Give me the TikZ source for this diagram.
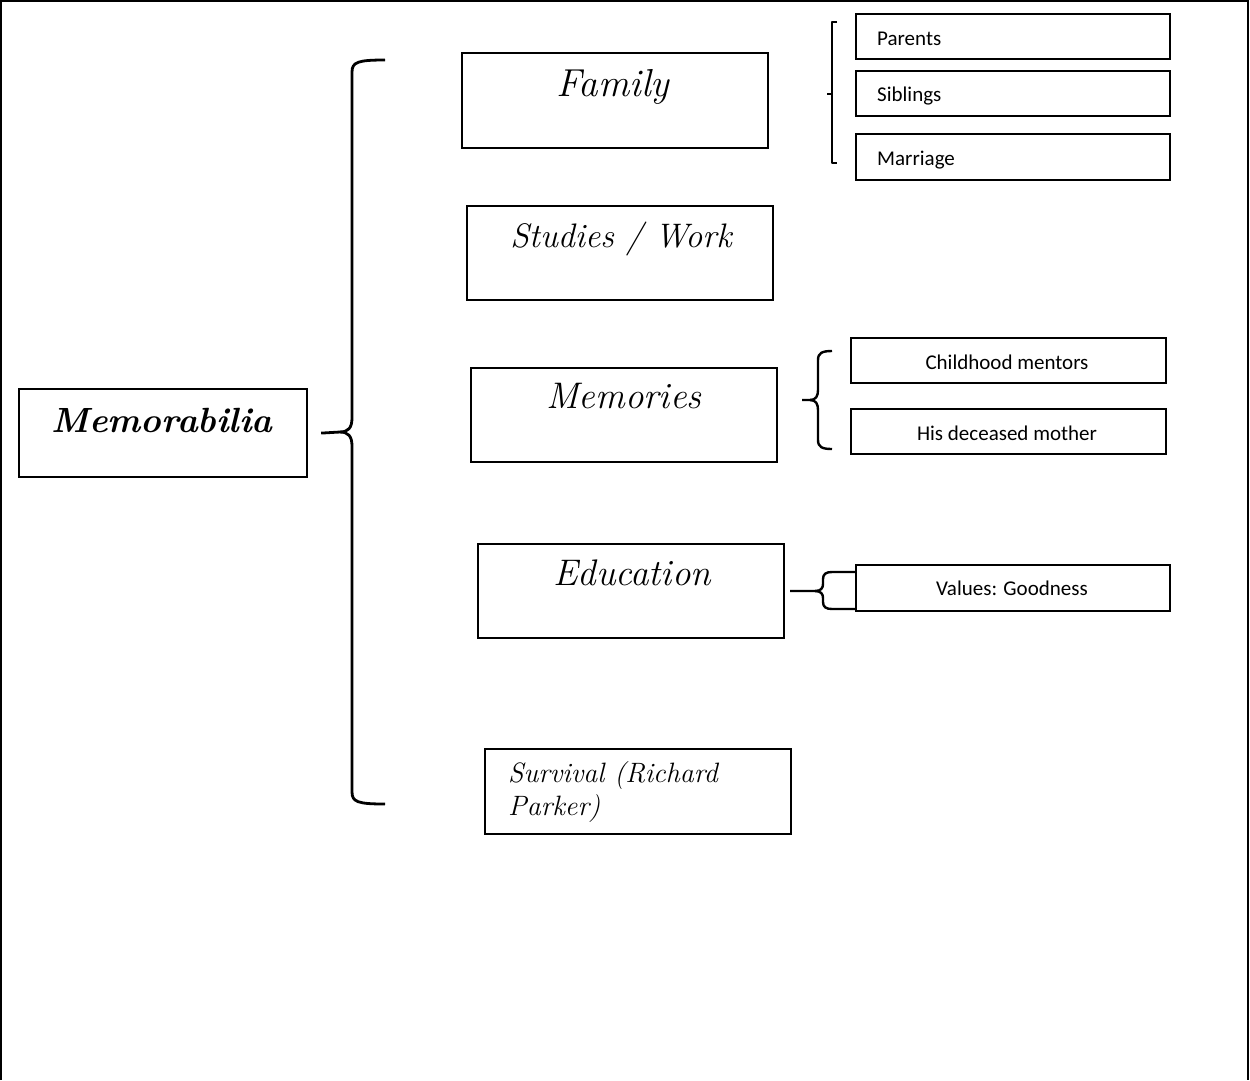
\documentclass[tikz,border=0pt]{standalone}
\usepackage{fontspec}
\newfontfamily\calib{Carlito}
\begin{document}
\begin{tikzpicture}[x=1pt,y=-1pt,
  box/.style={draw=black,line width=2.2pt,rectangle,inner sep=0pt,anchor=north west},
  scr/.style={inner sep=0pt,anchor=base,font=\fontsize{37}{40}\selectfont\itshape},
  lab/.style={inner sep=0pt,anchor=base,font=\calib\fontsize{21}{24}\selectfont},
  brc/.style={draw=black,line width=2.8pt,line join=round}]
\useasboundingbox (0,0) rectangle (1250,1080);
\fill[white] (0,0) rectangle (1250,1080);
\draw[line width=2pt] (1,1080) -- (1,1) -- (1248,1) -- (1248,1080);

% main boxes
\node[box,minimum width=288,minimum height=88] (memb) at (18,388) {};
\node[box,minimum width=306,minimum height=95] (famb) at (461,52) {};
\node[box,minimum width=306,minimum height=94] (stub) at (466,205) {};
\node[box,minimum width=306,minimum height=94] (remb) at (470,367) {};
\node[box,minimum width=306,minimum height=94] (edub) at (477,543) {};
\node[box,minimum width=306,minimum height=85] (surb) at (484,748) {};
% small boxes
\node[box,minimum width=314,minimum height=45] (parb) at (855,13) {};
\node[box,minimum width=314,minimum height=45] (sibb) at (855,70) {};
\node[box,minimum width=314,minimum height=46] (marb) at (855,133) {};
\node[box,minimum width=315,minimum height=45] (chib) at (850,337) {};
\node[box,minimum width=315,minimum height=45] (hisb) at (850,408) {};
\node[box,minimum width=314,minimum height=46] (valb) at (855,564) {};

% texts
\node[scr,font=\fontsize{35}{40}\selectfont\bfseries\itshape] (memt) at (162,432) {Memorabilia};
\node[scr,font=\fontsize{39}{40}\selectfont\itshape] (famt) at (613,96) {Family};
\node[scr,font=\fontsize{34}{40}\selectfont\itshape] (stut) at (621,247) {Studies / Work};
\node[scr] (remt) at (624,408) {Memories};
\node[scr] (edut) at (632,585) {Education};
\node[scr,anchor=base west,font=\fontsize{28}{32}\selectfont\itshape] (surt1) at (508,782) {Survival (Richard};
\node[scr,anchor=base west,font=\fontsize{28}{32}\selectfont\itshape] (surt2) at (508,815) {Parker)};
\node[lab,anchor=base west] (part) at (877,45) {Parents};
\node[lab,anchor=base west] (sibt) at (877,101) {Siblings};
\node[lab,anchor=base west] (mart) at (877,165) {Marriage};
\node[lab] (chit) at (1007,369) {Childhood mentors};
\node[lab] (hist) at (1007,440) {His deceased mother};
\node[lab] (valt) at (1012,595) {Values: Goodness};

% big brace
\draw[brc] (memb.east) ++(13,0) coordinate (bt0) -- (340,432)
  .. controls (348,432) and (352,428) .. (352,418) -- (352,72)
  .. controls (352,62) and (358,60) .. (385,60);
\draw[brc] (340,432) .. controls (348,432) and (352,436) .. (352,446) -- (352,792)
  .. controls (352,802) and (358,804) .. (385,804);

% family bracket
\draw[brc,line width=2pt] (837,22) -- (832,22) -- (832,163) -- (837,163);
\draw[brc,line width=2pt] (827,94) -- (832,94);

% memories brace
\draw[brc,line width=2.4pt] (802,400) -- (810,400)
  .. controls (816,400) and (818,396) .. (818,390) -- (818,360)
  .. controls (818,353) and (822,351) .. (832,351);
\draw[brc,line width=2.4pt] (810,400)
  .. controls (816,400) and (818,404) .. (818,410) -- (818,440)
  .. controls (818,447) and (822,449) .. (832,449);

% education brace
\coordinate (etip) at (790,591);
\coordinate (vtop) at (855,572);
\coordinate (vbot) at (855,609);
\draw[brc,line width=2.4pt] (etip) -- (815,591)
  .. controls (821,591) and (823,588) .. (823,584) -- (823,579)
  .. controls (823,574) and (826,572) .. (832,572) -- (vtop);
\draw[brc,line width=2.4pt] (815,591)
  .. controls (821,591) and (823,594) .. (823,598) -- (823,602)
  .. controls (823,607) and (826,609) .. (832,609) -- (vbot);
\end{tikzpicture}
\end{document}
